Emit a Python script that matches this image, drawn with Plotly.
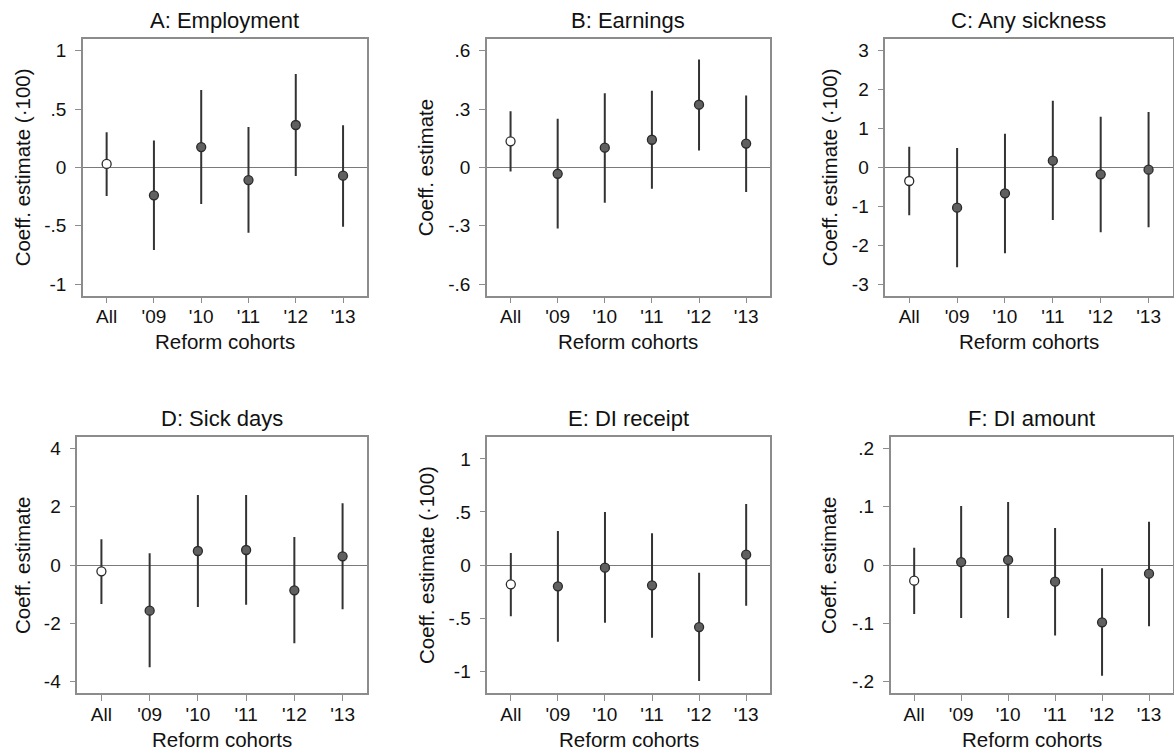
import plotly.graph_objects as go

# Cohort labels on the x axis
cohorts = ["All", "'09", "'10", "'11", "'12", "'13"]

# Panel titles and y-axis titles
titles = ["A: Employment", "B: Earnings", "C: Any sickness",
          "D: Sick days", "E: DI receipt", "F: DI amount"]
ytitles = ["Coeff. estimate (\u00b7100)", "Coeff. estimate", "Coeff. estimate (\u00b7100)",
           "Coeff. estimate", "Coeff. estimate (\u00b7100)", "Coeff. estimate"]

# Point estimates and 95% CI bounds, one list per outcome
emp_coef = [0.029, -0.240, 0.174, -0.109, 0.363, -0.071]
emp_lo = [-0.246, -0.709, -0.314, -0.560, -0.074, -0.509]
emp_hi = [0.300, 0.231, 0.663, 0.346, 0.800, 0.360]

earn_coef = [0.134, -0.033, 0.101, 0.142, 0.322, 0.122]
earn_lo = [-0.021, -0.315, -0.182, -0.110, 0.087, -0.127]
earn_hi = [0.288, 0.250, 0.381, 0.394, 0.555, 0.370]

sick_coef = [-0.351, -1.037, -0.669, 0.171, -0.180, -0.060]
sick_lo = [-1.234, -2.571, -2.211, -1.354, -1.671, -1.543]
sick_hi = [0.531, 0.497, 0.866, 1.714, 1.303, 1.423]

days_coef = [-0.217, -1.566, 0.480, 0.514, -0.869, 0.297]
days_lo = [-1.337, -3.509, -1.440, -1.360, -2.686, -1.520]
days_hi = [0.880, 0.400, 2.400, 2.400, 0.960, 2.114]

di_coef = [-0.182, -0.201, -0.025, -0.192, -0.585, 0.097]
di_lo = [-0.484, -0.723, -0.544, -0.686, -1.094, -0.384]
di_hi = [0.113, 0.321, 0.500, 0.299, -0.072, 0.575]

amt_coef = [-0.0269, 0.0051, 0.0086, -0.0286, -0.0983, -0.0149]
amt_lo = [-0.0840, -0.0909, -0.0909, -0.1210, -0.1900, -0.1050]
amt_hi = [0.0297, 0.1010, 0.1080, 0.0634, -0.0057, 0.0743]

# Y-axis ticks (values and Stata-style labels) and half-ranges
ytick_vals = [[-1, -0.5, 0, 0.5, 1], [-0.6, -0.3, 0, 0.3, 0.6], [-3, -2, -1, 0, 1, 2, 3],
              [-4, -2, 0, 2, 4], [-1, -0.5, 0, 0.5, 1], [-0.2, -0.1, 0, 0.1, 0.2]]
ytick_text = [["-1", "-.5", "0", ".5", "1"], ["-.6", "-.3", "0", ".3", ".6"],
              ["-3", "-2", "-1", "0", "1", "2", "3"], ["-4", "-2", "0", "2", "4"],
              ["-1", "-.5", "0", ".5", "1"], ["-.2", "-.1", "0", ".1", ".2"]]
yhalf = [1.1, 0.66, 3.3, 4.4, 1.21, 0.22]

panels = [(emp_coef, emp_lo, emp_hi), (earn_coef, earn_lo, earn_hi),
          (sick_coef, sick_lo, sick_hi), (days_coef, days_lo, days_hi),
          (di_coef, di_lo, di_hi), (amt_coef, amt_lo, amt_hi)]

W, H = 1174, 755
# Plot-area frames in pixels: (left, right, top, bottom)
frames = [(83, 366.7, 39, 295.7), (487, 769.7, 39, 295.7), (885.3, 1172.5, 39, 295.7),
          (77.3, 366.7, 436.7, 693.3), (487.3, 769.7, 436.7, 693.3), (890.7, 1172.5, 436.7, 693.3)]
ytitle_x = [22, 425, 829, 22, 426, 828]

FONT = "Liberation Sans, Arial, sans-serif"
TXT = "#111111"
FRAME = "#8c8c8c"

fig = go.Figure()
layout = dict(width=W, height=H, margin=dict(l=0, r=0, t=0, b=0),
              paper_bgcolor="white", plot_bgcolor="white", showlegend=False,
              font=dict(family=FONT, color=TXT))
annotations = []

for i, (coef, lo, hi) in enumerate(panels):
    k = "" if i == 0 else str(i + 1)
    l, r, t, b = frames[i]
    plus = [h - c for h, c in zip(hi, coef)]
    minus = [c - q for c, q in zip(coef, lo)]
    fills = ["white"] + ["#606060"] * (len(coef) - 1)
    fig.add_trace(go.Scatter(
        x=cohorts, y=coef, mode="markers", xaxis="x" + k, yaxis="y" + k,
        marker=dict(size=9, color=fills, line=dict(color="#2a2a2a", width=1.3)),
        error_y=dict(type="data", symmetric=False, array=plus, arrayminus=minus,
                     width=0, thickness=2, color="#333333"),
        cliponaxis=False,
    ))
    layout["xaxis" + k] = dict(
        domain=[l / W, r / W], anchor="y" + k, type="category",
        categoryorder="array", categoryarray=cohorts, range=[-0.5, 5.5],
        showline=True, mirror=True, linecolor=FRAME, linewidth=1.5,
        ticks="outside", ticklen=6, tickwidth=1.2, tickcolor=FRAME, ticklabelstandoff=-3,
        tickfont=dict(size=19, color=TXT, family=FONT), showgrid=False, zeroline=False,
    )
    layout["yaxis" + k] = dict(
        domain=[1 - b / H, 1 - t / H], anchor="x" + k, range=[-yhalf[i], yhalf[i]],
        tickvals=ytick_vals[i], ticktext=ytick_text[i],
        showline=True, mirror=True, linecolor=FRAME, linewidth=1.5,
        ticks="outside", ticklen=6, tickwidth=1.2, tickcolor=FRAME, ticklabelstandoff=5,
        tickfont=dict(size=19, color=TXT, family=FONT), showgrid=False,
        zeroline=True, zerolinecolor="#7a7a7a", zerolinewidth=1.2,
    )
    annotations.append(dict(text=titles[i], xref="paper", yref="paper",
                            x=(l + r) / 2 / W, y=1 - (t - 18) / H,
                            xanchor="center", yanchor="middle", showarrow=False,
                            font=dict(size=22, color=TXT, family=FONT)))
    annotations.append(dict(text="Reform cohorts", xref="paper", yref="paper",
                            x=(l + r) / 2 / W, y=1 - (b + 46) / H,
                            xanchor="center", yanchor="middle", showarrow=False,
                            font=dict(size=20.5, color=TXT, family=FONT)))
    annotations.append(dict(text=ytitles[i], xref="paper", yref="paper",
                            x=ytitle_x[i] / W, y=1 - (t + b) / 2 / H, textangle=-90,
                            xanchor="center", yanchor="middle", showarrow=False,
                            font=dict(size=20.5, color=TXT, family=FONT)))

layout["annotations"] = annotations
fig.update_layout(**layout)
fig.write_html("out.html")
